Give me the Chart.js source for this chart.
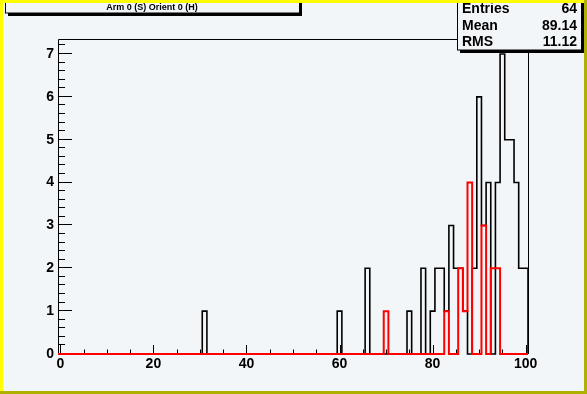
<!DOCTYPE html>
<html>
<head>
<meta charset="utf-8">
<script src="https://cdn.jsdelivr.net/npm/chart.js@4.4.0/dist/chart.umd.min.js"></script>
<style>
html, body { margin: 0; padding: 0; background: #f2f6f8; }
canvas { display: block; }
</style>
</head>
<body>
<canvas id="myChart" width="587" height="394"></canvas>
<script>
const titleText = "Arm 0 (S) Orient 0 (H)"
const statLabels = ["Entries", "Mean", "RMS"]
const statValues = ["64", "89.14", "11.12"]
const xTicks = [0, 20, 40, 60, 80, 100]
const yTicks = [0, 1, 2, 3, 4, 5, 6, 7]

// bin centre -> count (empty bins left out)
const blackBins = [31, 60, 66, 75, 78, 80, 81, 82, 83, 84, 85, 86, 87, 89, 90, 91, 92, 94, 95, 96, 97, 98, 99, 100]
const blackCounts = [1, 1, 2, 1, 2, 1, 2, 2, 1, 3, 2, 2, 1, 2, 6, 3, 4, 4, 7, 5, 5, 4, 2, 2]
const redBins = [70, 83, 86, 87, 88, 91, 93, 94]
const redCounts = [1, 1, 2, 1, 4, 3, 2, 2]

const nBins = 101
const xLow = -0.5
const xHigh = 100.5
const yHigh = 7.35

function outline(bins, counts) {
    let full = new Array(nBins).fill(0)
    bins.forEach((b, i) => { full[b] = counts[i] })
    let pts = full.map((v, k) => ({ x: xLow + k, y: v }))
    pts.push({ x: xHigh, y: 0 })
    return pts
}

const bg = "#f2f6f8"
const tickFont = { family: "'Liberation Sans', Arial, sans-serif", size: 14, weight: "bold" }

const rootStyle = {
    id: "rootStyle",
    beforeDraw(chart) {
        const ctx = chart.ctx
        ctx.save()
        ctx.fillStyle = bg
        ctx.fillRect(0, 0, chart.width, chart.height)
        ctx.restore()
    },
    beforeDatasetsDraw(chart) {
        const ctx = chart.ctx
        const a = chart.chartArea
        const xs = chart.scales.x
        const ys = chart.scales.y
        const L = Math.round(a.left) + 0.5, R = Math.round(a.right) + 0.5
        const T = Math.round(a.top) + 0.5, B = Math.round(a.bottom)
        ctx.save()
        ctx.strokeStyle = "#000"
        ctx.lineWidth = 1
        ctx.beginPath()
        ctx.moveTo(L, B)
        ctx.lineTo(L, T)
        ctx.lineTo(R, T)
        ctx.lineTo(R, B)
        // y ticks, inside the frame
        for (let v = 0; v <= yHigh + 1e-6; v += 0.2) {
            const y = Math.round(ys.getPixelForValue(v)) - 0.5
            const major = Math.abs(v - Math.round(v)) < 1e-6
            ctx.moveTo(a.left, y)
            ctx.lineTo(a.left + (major ? 14 : 7), y)
        }
        // x ticks
        for (let v = 0; v <= 100; v += 5) {
            const x = Math.round(xs.getPixelForValue(v)) + 0.5
            const major = v % 20 === 0
            ctx.moveTo(x, a.bottom)
            ctx.lineTo(x, a.bottom - (major ? 9 : 4.5))
        }
        ctx.stroke()
        ctx.restore()
    },
    afterDraw(chart) {
        const ctx = chart.ctx
        const W = chart.width, H = chart.height
        ctx.save()
        // title box
        ctx.fillStyle = "#000"
        ctx.fillRect(8, 13, 294, 3)
        ctx.fillRect(299, 0, 3, 16)
        ctx.fillStyle = bg
        ctx.fillRect(5, -2, 294, 15)
        ctx.strokeStyle = "#000"
        ctx.lineWidth = 1
        ctx.strokeRect(5.5, -2, 294, 15)
        ctx.fillStyle = "#000"
        ctx.font = "bold 9px 'Liberation Sans', Arial, sans-serif"
        ctx.textAlign = "center"
        ctx.textBaseline = "alphabetic"
        ctx.fillText(titleText, 152, 10)

        // stats box
        ctx.fillStyle = "#000"
        ctx.fillRect(460, 50, 124, 3)
        ctx.fillRect(581, 0, 3, 53)
        ctx.fillStyle = bg
        ctx.fillRect(457, -2, 124, 52)
        ctx.strokeRect(457.5, -2, 124, 52)
        ctx.fillStyle = "#000"
        ctx.font = "bold 14px 'Liberation Sans', Arial, sans-serif"
        statLabels.forEach((s, i) => {
            const yb = 13 + i * 16.5
            ctx.textAlign = "left"
            ctx.fillText(s, 462, yb)
            ctx.textAlign = "right"
            ctx.fillText(statValues[i], 577, yb)
        })

        // pad border
        ctx.fillStyle = "#ffff00"
        ctx.fillRect(0, 0, W, 3)
        ctx.fillRect(0, 0, 3, H)
        ctx.fillStyle = "#b0b000"
        ctx.fillRect(0, H - 3, W, 3)
        ctx.fillRect(W - 3, 0, 3, H)
        ctx.restore()
    }
}

new Chart("myChart", {
    type: "line",
    data: {
        datasets: [{
            label: "red",
            data: outline(redBins, redCounts),
            borderColor: "#ff0000",
            borderWidth: 2,
            stepped: "before",
            pointRadius: 0,
            fill: false,
            clip: false,
            order: -1
        }, {
            label: "black",
            data: outline(blackBins, blackCounts),
            borderColor: "#000000",
            borderWidth: 1.6,
            stepped: "before",
            pointRadius: 0,
            fill: false,
            clip: false,
            order: 1
        }]
    },
    options: {
        responsive: false,
        animation: false,
        layout: { padding: { top: 39, right: 59, left: 0, bottom: 0 } },
        plugins: { legend: { display: false }, tooltip: { enabled: false } },
        scales: {
            x: {
                type: "linear",
                min: xLow,
                max: xHigh,
                afterBuildTicks: (s) => { s.ticks = xTicks.map(v => ({ value: v })) },
                afterFit: (s) => { s.height = 40 },
                grid: { display: false, drawTicks: false },
                border: { display: false },
                ticks: { font: tickFont, color: "#000", padding: 2, maxRotation: 0, autoSkip: false }
            },
            y: {
                min: 0,
                max: yHigh,
                afterBuildTicks: (s) => { s.ticks = yTicks.map(v => ({ value: v })) },
                afterFit: (s) => { s.width = 58 },
                grid: { display: false, drawTicks: false },
                border: { display: false },
                ticks: { font: tickFont, color: "#000", padding: 4, autoSkip: false }
            }
        }
    },
    plugins: [rootStyle]
});
</script>
</body>
</html>
